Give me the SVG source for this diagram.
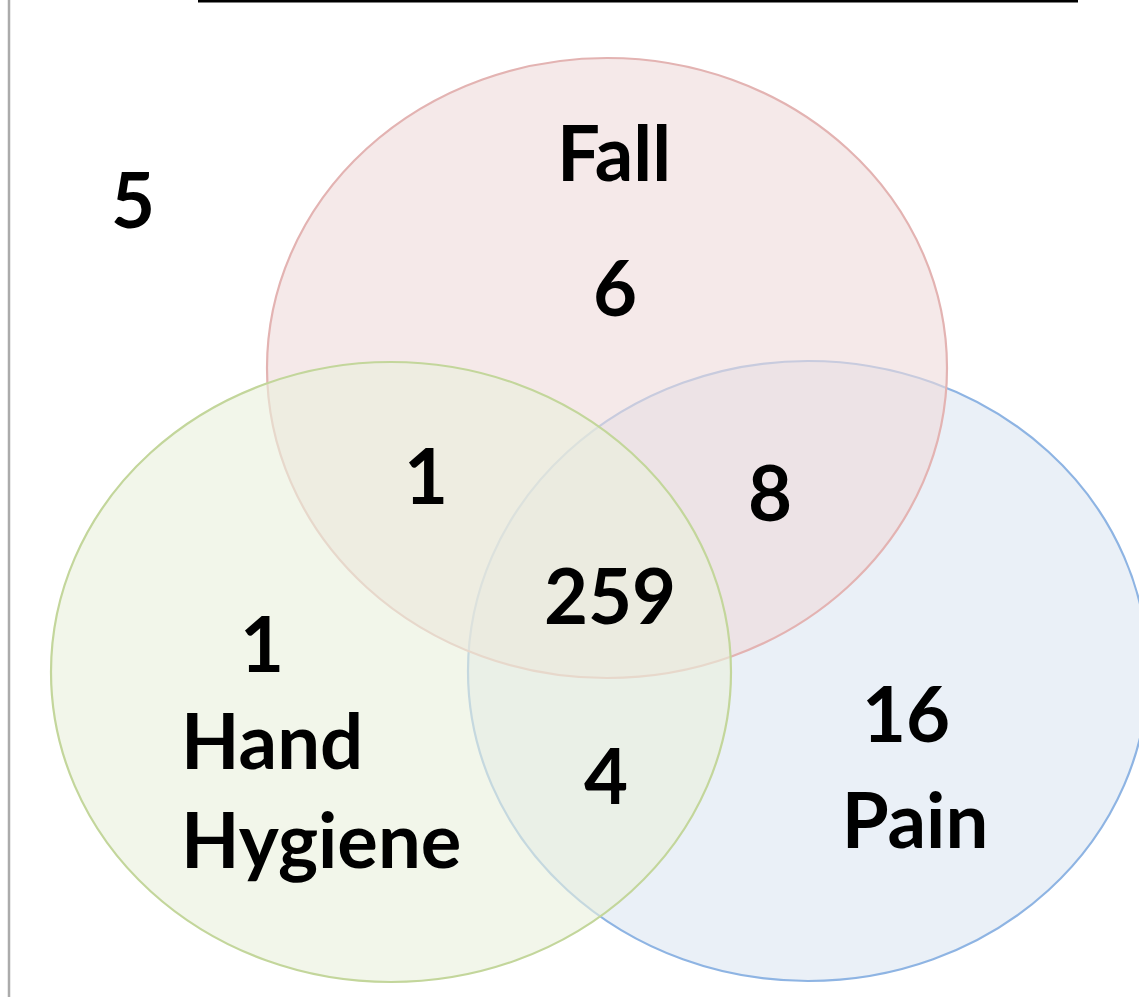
<svg xmlns="http://www.w3.org/2000/svg" width="1139" height="997" viewBox="0 0 1139 997">
<style>
.lbl{font-family:Lato,"Open Sans","Liberation Sans",sans-serif;font-weight:bold;font-size:76px;fill:#000}
.mid{text-anchor:middle}
.set{fill-opacity:0.6;stroke-width:2.2}
</style>
<rect x="0" y="0" width="1139" height="997" fill="#ffffff"/>
<g id="frame">
<line x1="198" y1="1" x2="1078" y2="1" stroke="#000" stroke-width="3"/>
<line x1="9" y1="0" x2="9" y2="997" stroke="#ababab" stroke-width="2.5"/>
</g>
<g id="pain-shape">
<ellipse class="set" cx="808" cy="671" rx="340" ry="310" fill="#dce6f2" stroke="#8eb4e3"/>
</g>
<g id="fall-shape">
<ellipse class="set" cx="607" cy="368" rx="340" ry="310" fill="#eedada" stroke="#e3b3b2"/>
</g>
<g id="handhygiene-shape">
<ellipse class="set" cx="391" cy="672" rx="340" ry="310" fill="#e9f0dc" stroke="#c3d69b"/>
</g>
<g id="fall">
<text class="lbl mid" x="614" y="181">Fall</text>
<text class="lbl mid" x="615" y="316">6</text>
</g>
<g id="handhygiene">
<text class="lbl mid" x="262" y="672">1</text>
<text class="lbl" x="181" y="769">Hand</text>
<text class="lbl" x="181" y="868">Hygiene</text>
</g>
<g id="pain">
<text class="lbl mid" x="906" y="742">16</text>
<text class="lbl mid" x="915" y="848">Pain</text>
</g>
<g id="regions">
<text class="lbl mid" x="133" y="228">5</text>
<text class="lbl mid" x="426" y="504">1</text>
<text class="lbl mid" x="770" y="521">8</text>
<text class="lbl mid" x="610" y="624">259</text>
<text class="lbl mid" x="606" y="804">4</text>
</g>
</svg>
